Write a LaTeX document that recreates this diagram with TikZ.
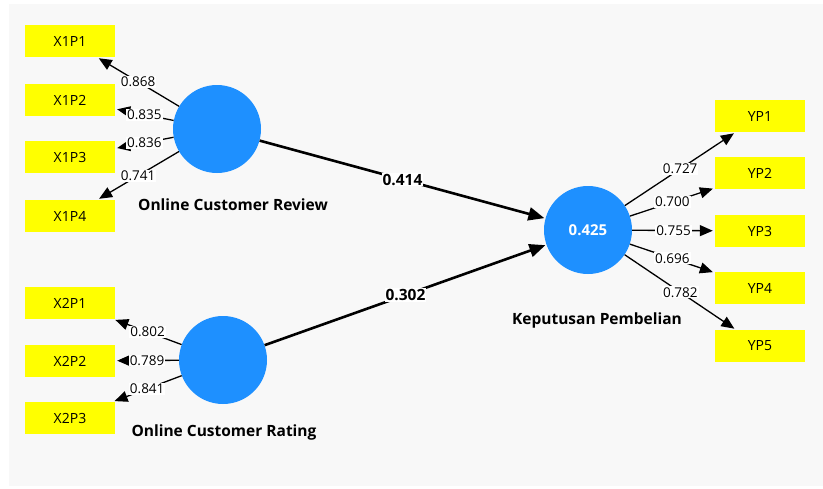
\documentclass[tikz,border=0pt]{standalone}
\usepackage{fontspec}
\setmainfont{Open Sans}
\usetikzlibrary{arrows.meta}
\definecolor{lvblue}{RGB}{30,144,255}
\definecolor{indyellow}{RGB}{255,255,0}
\definecolor{panelgray}{RGB}{248,248,248}

\begin{document}
\begin{tikzpicture}[x=1pt,y=-1pt,
  ind/.style={fill=indyellow,minimum width=90pt,minimum height=32pt,inner sep=0pt,font=\fontsize{14}{16}\selectfont},
  lv/.style={circle,fill=lvblue,minimum size=88pt,inner sep=0pt},
  lvname/.style={font=\fontsize{15.5}{18}\selectfont\bfseries},
  loadarr/.style={-{Triangle[length=13pt,width=11pt]},line width=1.3pt,shorten >=2pt},
  structarr/.style={-{Triangle[length=16pt,width=13pt]},line width=2.6pt,shorten >=1pt},
  lbl/.style={fill=white,inner sep=1pt,font=\fontsize{13.5}{15}\selectfont},
  blbl/.style={fill=white,inner sep=1pt,font=\fontsize{15.5}{17}\selectfont\bfseries}]
% page and light panel (SmartPLS canvas)
\fill[white] (0,0) rectangle (823,488);
\fill[panelgray] (9,4) rectangle (823,486);
% latent variables
\node[lv] (ocr) at (217,129) {};
\node[lv] (ocrt) at (223,360) {};
\node[lv,font=\fontsize{15}{17}\selectfont\bfseries,text=white] (kp) at (588,230) {0.425};
\node[lvname] at (233,205) {Online Customer Review};
\node[lvname] at (224,432) {Online Customer Rating};
\node[lvname] at (597,320) {Keputusan Pembelian};
% indicators, left blocks
\node[ind] (x1p1) at (70,41) {X1P1};
\node[ind] (x1p2) at (70,100) {X1P2};
\node[ind] (x1p3) at (70,157) {X1P3};
\node[ind] (x1p4) at (70,216) {X1P4};
\node[ind] (x2p1) at (70,303) {X2P1};
\node[ind] (x2p2) at (70,361) {X2P2};
\node[ind] (x2p3) at (70,418) {X2P3};
% indicators, right block
\node[ind] (yp1) at (760,116) {YP1};
\node[ind] (yp2) at (760,173) {YP2};
\node[ind] (yp3) at (760,231) {YP3};
\node[ind] (yp4) at (760,288) {YP4};
\node[ind] (yp5) at (760,346) {YP5};
% outer loadings
\draw[loadarr] (ocr) -- node[lbl] {0.868} (x1p1);
\draw[loadarr] (ocr) -- node[lbl] {0.835} (x1p2);
\draw[loadarr] (ocr) -- node[lbl] {0.836} (x1p3);
\draw[loadarr] (ocr) -- node[lbl] {0.741} (x1p4);
\draw[loadarr] (ocrt) -- node[lbl] {0.802} (x2p1);
\draw[loadarr] (ocrt) -- node[lbl] {0.789} (x2p2);
\draw[loadarr] (ocrt) -- node[lbl] {0.841} (x2p3);
\draw[loadarr] (kp) -- node[lbl] {0.727} (yp1);
\draw[loadarr] (kp) -- node[lbl] {0.700} (yp2);
\draw[loadarr] (kp) -- node[lbl] {0.755} (yp3);
\draw[loadarr] (kp) -- node[lbl] {0.696} (yp4);
\draw[loadarr] (kp) -- node[lbl] {0.782} (yp5);
% path coefficients
\draw[structarr] (ocr) -- node[blbl] {0.414} (kp);
\draw[structarr] (ocrt) -- node[blbl] {0.302} (kp);
\end{tikzpicture}
\end{document}
